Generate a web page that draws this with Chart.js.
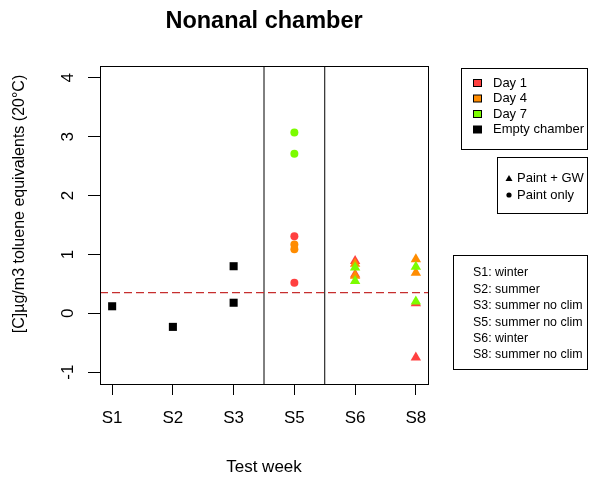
<!DOCTYPE html>
<html><head><meta charset="utf-8">
<script src="https://cdn.jsdelivr.net/npm/chart.js@4/dist/chart.umd.min.js"></script>
<style>html,body{margin:0;padding:0;background:#fff;}#wrap{width:596px;height:479px;}</style>
</head><body><div id="wrap"><canvas id="c" width="596" height="479"></canvas></div>
<script>
// ---- data ----
const categories = ['S1','S2','S3','S5','S6','S8'];
const yTickValues = [-1,0,1,2,3,4];
const emptyChamberWeeks = ['S1','S2','S3','S3'];
const emptyChamberValues = [0.12,-0.23,0.80,0.18];
const paintOnlyWeeks = ['S5','S5'];
const day1PaintOnly = [1.31,0.52];
const day4PaintOnly = [1.17,1.09];
const day7PaintOnly = [3.07,2.71];
const paintGWWeeks = ['S6','S6','S8','S8'];
const day1PaintGW = [0.89,0.66,0.17,-0.75];
const day4PaintGW = [0.84,0.64,0.92,0.69];
const day7PaintGW = [0.78,0.55,0.79,0.20];
const referenceLevel = 0.35;
const separatorsAfter = ['S3','S5'];
const seriesLabels = ['Day 1','Day 4','Day 7','Empty chamber'];
const shapeLabels = ['Paint + GW','Paint only'];
const weekNotes = ['S1: winter','S2: summer','S3: summer no clim','S5: summer no clim','S6: winter','S8: summer no clim'];
const yAxisTitle = '[C]µg/m3 toluene equivalents (20°C)';

// ---- style ----
const FONT = "'Liberation Sans', Arial, sans-serif";
const C1 = '#FF4040', C4 = '#FF8C00', C7 = '#7CFC00', CE = '#000000';
const X_MIN = -0.2, X_MAX = 5.2, Y_MIN = -1.2, Y_MAX = 4.2;

const pts = (weeks, vals) => weeks.map((w,i)=>({x: categories.indexOf(w), y: vals[i]}));

const datasets = [];
function addSeries(label, data, color, style, radius, order){
  datasets.push({label, data, type:'scatter', pointStyle:style, pointRadius:radius,
    pointBackgroundColor:color, backgroundColor:color, pointBorderWidth:0, borderWidth:0, order});
}
addSeries('Empty chamber', pts(emptyChamberWeeks, emptyChamberValues), CE, 'rect', 5.7, 4);
addSeries('Day 1 paint only', pts(paintOnlyWeeks, day1PaintOnly), C1, 'circle', 4, 3);
addSeries('Day 4 paint only', pts(paintOnlyWeeks, day4PaintOnly), C4, 'circle', 4, 2);
addSeries('Day 7 paint only', pts(paintOnlyWeeks, day7PaintOnly), C7, 'circle', 4, 1);
addSeries('Day 1 paint + GW', pts(paintGWWeeks, day1PaintGW), C1, 'triangle', 6, 3);
addSeries('Day 4 paint + GW', pts(paintGWWeeks, day4PaintGW), C4, 'triangle', 6, 2);
addSeries('Day 7 paint + GW', pts(paintGWWeeks, day7PaintGW), C7, 'triangle', 6, 1);
datasets.push({label:'reference', type:'line', data:[{x:X_MIN,y:referenceLevel},{x:X_MAX,y:referenceLevel}],
  borderColor:'#C62E2E', borderWidth:1.2, borderDash:[8,4], pointRadius:0, fill:false, order:10});
separatorsAfter.forEach(w=>{
  const xv = categories.indexOf(w) + 0.5;
  datasets.push({label:'sep', type:'line', data:[{x:xv,y:Y_MIN},{x:xv,y:Y_MAX}],
    borderColor:'#000', borderWidth:1, pointRadius:0, fill:false, order:11});
});

const decor = {
  id:'decor',
  afterDraw(chart){
    const ctx = chart.ctx, ca = chart.chartArea;
    ctx.save();
    // frame
    ctx.strokeStyle = '#000'; ctx.lineWidth = 1;
    ctx.strokeRect(Math.round(ca.left)+0.5, Math.round(ca.top)+0.5, Math.round(ca.right-ca.left), Math.round(ca.bottom-ca.top));
    // title
    ctx.fillStyle = '#000';
    ctx.font = 'bold 23.5px ' + FONT; ctx.textAlign='center'; ctx.textBaseline='middle';
    ctx.fillText('Nonanal chamber', (ca.left+ca.right)/2, 22);
    // y axis title
    ctx.save();
    ctx.translate(20, 204); ctx.rotate(-Math.PI/2);
    ctx.font = '16px ' + FONT;
    ctx.fillText(yAxisTitle, 0, 0);
    ctx.restore();
    // legend 1
    ctx.font = '13px ' + FONT; ctx.textAlign='left';
    ctx.strokeRect(461.5, 68.5, 126, 81);
    const cols = [C1, C4, C7, CE];
    const rows1 = [83, 98.5, 114, 129.5];
    seriesLabels.forEach((t,i)=>{
      ctx.fillStyle = cols[i];
      ctx.fillRect(473.5, rows1[i]-3.5, 8, 7);
      ctx.strokeRect(473.5, rows1[i]-3.5, 8, 7);
      ctx.fillStyle = '#000';
      ctx.fillText(t, 493, rows1[i]);
    });
    // legend 2
    ctx.strokeRect(497.5, 157.5, 90, 56);
    ctx.beginPath(); ctx.moveTo(509, 175); ctx.lineTo(512.5, 181); ctx.lineTo(505.5, 181); ctx.closePath(); ctx.fill();
    ctx.beginPath(); ctx.arc(509, 195, 2.6, 0, Math.PI*2); ctx.fill();
    ctx.fillText(shapeLabels[0], 517, 178);
    ctx.fillText(shapeLabels[1], 517, 195);
    // legend 3
    ctx.strokeRect(453.5, 255.5, 134, 114);
    ctx.font = '12.4px ' + FONT;
    weekNotes.forEach((t,i)=>{ ctx.fillText(t, 473, 273 + i*16.4); });
    ctx.restore();
  }
};

new Chart(document.getElementById('c'), {
  type:'scatter',
  data:{datasets},
  options:{
    responsive:false, animation:false, devicePixelRatio:1,
    layout:{padding:{top:66, right:168, left:0, bottom:0}},
    plugins:{legend:{display:false}, tooltip:{enabled:false}, title:{display:false}},
    scales:{
      x:{type:'linear', min:X_MIN, max:X_MAX,
        afterBuildTicks:s=>{ s.ticks = categories.map((c,i)=>({value:i})); },
        afterFit:s=>{ s.height = 95; },
        ticks:{callback:(v)=>categories[v], color:'#000', font:{family:FONT, size:17}, padding:13, autoSkip:false, maxRotation:0, minRotation:0},
        grid:{display:true, drawOnChartArea:false, drawTicks:true, tickLength:11, color:'#000', lineWidth:1},
        border:{display:false},
        title:{display:true, text:'Test week', color:'#000', font:{family:FONT, size:17}, padding:{top:0, bottom:1}}
      },
      y:{type:'linear', min:Y_MIN, max:Y_MAX,
        afterBuildTicks:s=>{ s.ticks = yTickValues.map(v=>({value:v})); },
        afterFit:s=>{ s.width = 100; },
        ticks:{callback:(v)=>String(v), color:'#000', font:{family:FONT, size:17}, padding:12, minRotation:90, maxRotation:90, crossAlign:'center'},
        grid:{display:true, drawOnChartArea:false, drawTicks:true, tickLength:12, color:'#000', lineWidth:1},
        border:{display:false},
        title:{display:false}
      }
    }
  },
  plugins:[decor]
});
</script></body></html>
